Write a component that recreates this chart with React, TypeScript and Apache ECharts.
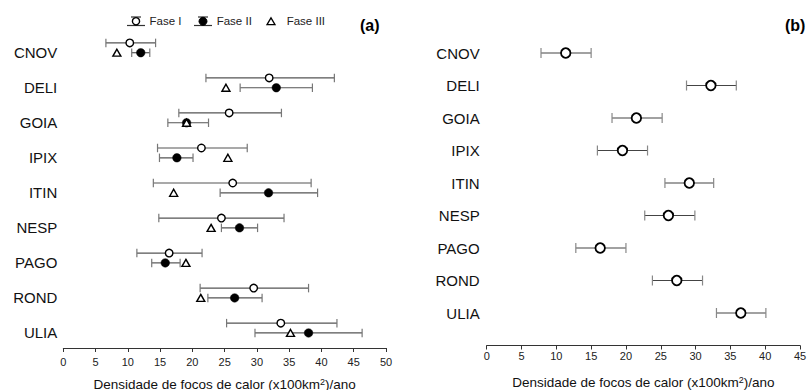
import React, { useEffect, useRef } from "react";
import * as echarts from "echarts";

const categories = ["CNOV", "DELI", "GOIA", "IPIX", "ITIN", "NESP", "PAGO", "ROND", "ULIA"];
const fase1Mean = [10.3, 31.9, 25.7, 21.4, 26.25, 24.5, 16.4, 29.5, 33.7];
const fase1Low = [6.6, 22.1, 17.9, 14.6, 13.95, 14.8, 11.4, 21.2, 25.3];
const fase1High = [14.3, 42.0, 33.8, 28.5, 38.4, 34.2, 21.5, 38.0, 42.4];
const fase2Mean = [12.0, 33.0, 19.1, 17.6, 31.8, 27.3, 15.8, 26.55, 38.0];
const fase2Low = [10.6, 27.4, 16.2, 14.9, 24.3, 24.5, 13.7, 22.4, 29.7];
const fase2High = [13.4, 38.6, 22.5, 20.1, 39.4, 30.1, 18.1, 30.8, 46.3];
const fase3Mean = [8.3, 25.2, 19.1, 25.5, 17.1, 22.9, 19.0, 21.3, 35.2];
const totalMean = [11.35, 32.2, 21.5, 19.5, 29.1, 26.1, 16.3, 27.3, 36.5];
const totalLow = [7.8, 28.7, 18.0, 15.9, 25.6, 22.7, 12.8, 23.8, 33.0];
const totalHigh = [15.0, 35.85, 25.2, 23.1, 32.6, 29.9, 20.0, 31.0, 40.1];
const legendNames = ["Fase I", "Fase II", "Fase III"];
const panelLabels = ["(a)", "(b)"];
const xTitle = "Densidade de focos de calor (x100km{sup|2})/ano";

const FONT = "'Liberation Sans', Arial, sans-serif";
const OFF1 = -0.26;
const OFF2 = 0.02;

function errorBar(capH: number, stroke: string, capStroke: string) {
  return (params: any, api: any) => {
    const y = api.value(0);
    const p1 = api.coord([api.value(1), y]);
    const p2 = api.coord([api.value(2), y]);
    const h = capH / 2;
    return {
      type: "group",
      children: [
        { type: "line", shape: { x1: p1[0], y1: p1[1], x2: p2[0], y2: p2[1] }, style: { stroke, lineWidth: 1.2 } },
        { type: "line", shape: { x1: p1[0], y1: p1[1] - h, x2: p1[0], y2: p1[1] + h }, style: { stroke: capStroke, lineWidth: 1.2 } },
        { type: "line", shape: { x1: p2[0], y1: p2[1] - h, x2: p2[0], y2: p2[1] + h }, style: { stroke: capStroke, lineWidth: 1.2 } },
      ],
    };
  };
}

export default function App() {
  const ref = useRef<HTMLDivElement>(null);
  useEffect(() => {
    const chart = echarts.init(ref.current!, null, { renderer: "svg" });
    const idx = categories.map((_, i) => i);
    const xAxisCommon = (gridIndex: number, max: number, margin: number, nameGap: number) => ({
      type: "value",
      gridIndex,
      position: "bottom",
      min: 0,
      max,
      interval: 5,
      splitLine: { show: false },
      axisLine: { show: true, onZero: false, lineStyle: { color: "#333", width: 1 } },
      axisTick: { show: true, length: 4, lineStyle: { color: "#333" } },
      axisLabel: { fontFamily: FONT, fontSize: 11, color: "#222", margin },
      name: xTitle,
      nameLocation: "middle",
      nameGap,
      nameTextStyle: {
        fontFamily: FONT,
        fontSize: 13.5,
        color: "#111",
        rich: {
          sup: { fontFamily: FONT, fontSize: 9, color: "#111", verticalAlign: "top", padding: [0, 0, 5, 0] },
        },
      },
    });
    const yAxisCommon = (gridIndex: number, min: number, max: number, margin: number) => ({
      type: "value",
      gridIndex,
      inverse: true,
      min,
      max,
      splitLine: { show: false },
      axisLine: { show: false, onZero: false },
      axisTick: { show: false },
      axisLabel: {
        customValues: idx,
        formatter: (v: number) => categories[Math.round(v)] ?? "",
        fontFamily: FONT,
        fontSize: 15,
        color: "#111",
        margin,
      },
    });
    chart.setOption({
      animation: false,
      backgroundColor: "#fff",
      grid: [
        { left: 63.3, width: 322.7, top: 36.25, height: 311.75, containLabel: false, outerBoundsMode: "none" },
        { left: 486.7, width: 313.3, top: 36.75, height: 308.75, containLabel: false, outerBoundsMode: "none" },
      ],
      xAxis: [xAxisCommon(0, 50, 8, 29), xAxisCommon(1, 45, 5, 30)],
      yAxis: [yAxisCommon(0, -0.45, 8.45, 6), yAxisCommon(1, -0.5, 9, 7)],
      series: [
        {
          type: "custom",
          xAxisIndex: 0,
          yAxisIndex: 0,
          renderItem: errorBar(8.5, "#555", "#777"),
          encode: { x: [1, 2], y: 0 },
          data: idx.map((i) => [i + OFF1, fase1Low[i], fase1High[i]]),
          z: 1,
        },
        {
          type: "custom",
          xAxisIndex: 0,
          yAxisIndex: 0,
          renderItem: errorBar(8.5, "#555", "#777"),
          encode: { x: [1, 2], y: 0 },
          data: idx.map((i) => [i + OFF2, fase2Low[i], fase2High[i]]),
          z: 1,
        },
        {
          name: legendNames[0],
          type: "scatter",
          xAxisIndex: 0,
          yAxisIndex: 0,
          symbol: "circle",
          symbolSize: 7.5,
          itemStyle: { color: "#fff", borderColor: "#000", borderWidth: 1.4, opacity: 1 },
          data: idx.map((i) => [fase1Mean[i], i + OFF1]),
          z: 3,
        },
        {
          name: legendNames[1],
          type: "scatter",
          xAxisIndex: 0,
          yAxisIndex: 0,
          symbol: "circle",
          symbolSize: 8.5,
          itemStyle: { color: "#000", borderColor: "#000", borderWidth: 0.5, opacity: 1 },
          data: idx.map((i) => [fase2Mean[i], i + OFF2]),
          z: 3,
        },
        {
          name: legendNames[2],
          type: "scatter",
          xAxisIndex: 0,
          yAxisIndex: 0,
          symbol: "triangle",
          symbolSize: [8, 7],
          itemStyle: { color: "#fff", borderColor: "#000", borderWidth: 1.4, opacity: 1 },
          data: idx.map((i) => [fase3Mean[i], i + OFF2]),
          z: 4,
        },
        {
          type: "custom",
          xAxisIndex: 1,
          yAxisIndex: 1,
          renderItem: errorBar(10, "#444", "#888"),
          encode: { x: [1, 2], y: 0 },
          data: idx.map((i) => [i, totalLow[i], totalHigh[i]]),
          z: 1,
        },
        {
          type: "scatter",
          xAxisIndex: 1,
          yAxisIndex: 1,
          symbol: "circle",
          symbolSize: 9.5,
          itemStyle: { color: "#fff", borderColor: "#000", borderWidth: 1.8, opacity: 1 },
          data: idx.map((i) => [totalMean[i], i]),
          z: 3,
        },
      ],
      graphic: [
        // legend Fase I
        { type: "line", shape: { x1: 127, y1: 25.5, x2: 145, y2: 25.5 }, style: { stroke: "#333", lineWidth: 1.2 } },
        { type: "line", shape: { x1: 131, y1: 17, x2: 141, y2: 17 }, style: { stroke: "#333", lineWidth: 1.2 } },
        { type: "circle", shape: { cx: 136, cy: 21.3, r: 3.6 }, style: { fill: "#fff", stroke: "#000", lineWidth: 1.4 }, z: 10 },
        { type: "text", x: 149.5, y: 21.3, style: { text: legendNames[0], fontFamily: FONT, fontSize: 11.5, fill: "#222", verticalAlign: "middle" } },
        // legend Fase II
        { type: "line", shape: { x1: 194, y1: 25.5, x2: 212, y2: 25.5 }, style: { stroke: "#333", lineWidth: 1.2 } },
        { type: "line", shape: { x1: 198, y1: 17, x2: 208, y2: 17 }, style: { stroke: "#333", lineWidth: 1.2 } },
        { type: "circle", shape: { cx: 203, cy: 21.3, r: 4 }, style: { fill: "#000", stroke: "#000", lineWidth: 1 }, z: 10 },
        { type: "text", x: 216.7, y: 21.3, style: { text: legendNames[1], fontFamily: FONT, fontSize: 11.5, fill: "#222", verticalAlign: "middle" } },
        // legend Fase III
        { type: "polygon", shape: { points: [[271, 17.8], [275, 24.6], [267, 24.6]] }, style: { fill: "#fff", stroke: "#000", lineWidth: 1.3 } },
        { type: "text", x: 286.7, y: 21.3, style: { text: legendNames[2], fontFamily: FONT, fontSize: 11.5, fill: "#222", verticalAlign: "middle" } },
        // panel labels
        { type: "text", x: 360, y: 25, style: { text: panelLabels[0], fontFamily: FONT, fontSize: 16, fontWeight: "bold", fill: "#000", verticalAlign: "middle" } },
        { type: "text", x: 785, y: 25, style: { text: panelLabels[1], fontFamily: FONT, fontSize: 16, fontWeight: "bold", fill: "#000", verticalAlign: "middle" } },
      ],
    });
    return () => chart.dispose();
  }, []);
  return (
    <div
      ref={ref}
      style={{ position: "fixed", left: 0, top: 0, width: 808, height: 390, background: "#fff" }}
    />
  );
}
